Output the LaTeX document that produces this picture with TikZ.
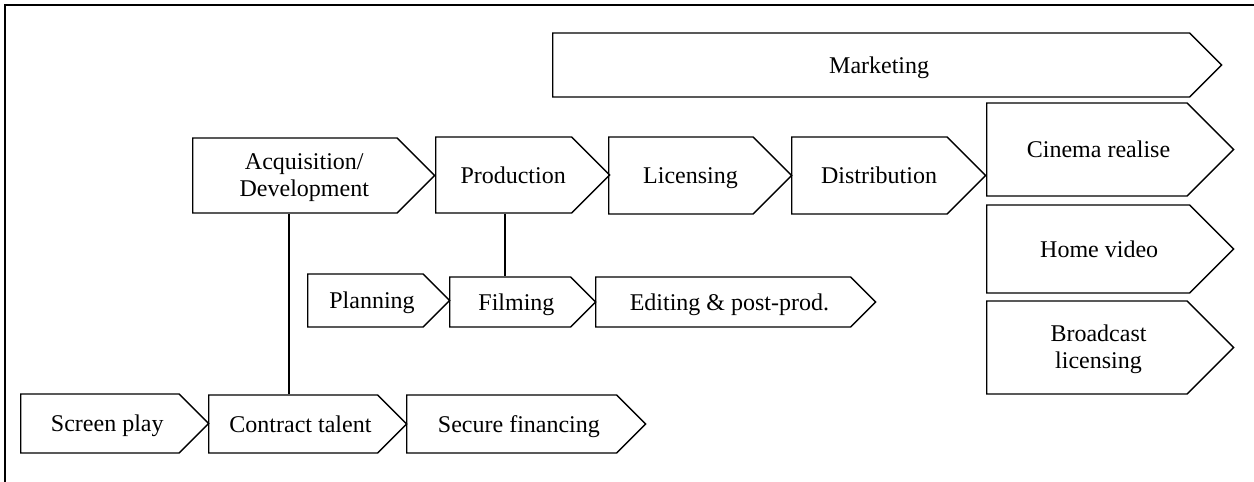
\documentclass[tikz,border=0pt]{standalone}
\usepackage{fontspec}
\setmainfont{Liberation Serif}
\usetikzlibrary{shapes.symbols, calc}

\newcommand{\twoline}[1]{\begin{tabular}{@{}c@{}}#1\end{tabular}}

\tikzset{
  stage/.style={draw, line width=1pt, signal, signal to=east, signal pointer angle=90,
    anchor=west, inner sep=1pt, text height=12pt, text depth=0pt,
    font=\fontsize{18}{20}\selectfont},
  % width, height in px; text sits a bit towards the tip
  size/.style 2 args={minimum width=#1*0.75pt, minimum height=#2*0.75pt,
    execute at begin node={\pgfmathsetlengthmacro\tsh{#2*0.1875pt}\hspace*{\tsh}}},
  link/.style={line width=1.5pt},
}

\begin{document}
\begin{tikzpicture}[x=0.75pt, y=-0.75pt]
        \useasboundingbox (0,0) rectangle (1254,482);

        % the frame
        \draw [line width=1.5pt] (1254,5) -- (5,5) -- (5,482);

        % marketing on top
        \node[stage, size={669}{64}] (mkt) at (552,65) {Marketing};

        % main chain
        \node[stage, size={242}{75}] (acq)  at (192,175.5) {\twoline{Acquisition/\\Development}};
        \node[stage, size={174}{76}] (prod) at (435,175)   {Production};
        \node[stage, size={183}{77}] (lic)  at (608,175.5) {Licensing};
        \node[stage, size={194}{77}] (dist) at (791,175.5) {Distribution};

        % release channels
        \node[stage, size={247}{93}] (cin)  at (986,149.5) {Cinema realise};
        \node[stage, size={247}{88}] (home) at (986,249)   {Home video};
        \node[stage, size={247}{93}] (brd)  at (986,347.5) {\twoline{Broadcast\\licensing}};

        % production steps
        \node[stage, size={142}{53}] (plan) at (307,300.5) {Planning};
        \node[stage, size={146}{50}] (film) at (449,302)   {Filming};
        \node[stage, size={280}{50}] (edit) at (595,302)   {Editing \& post-prod.};

        % development steps
        \node[stage, size={188}{59}] (scr) at (20,423.5)  {Screen play};
        \node[stage, size={198}{58}] (con) at (208,424)   {Contract talent};
        \node[stage, size={239}{58}] (sec) at (406,424)   {Secure financing};

        % the links
        \coordinate (a) at ($ (acq.south west)!.47!(acq.south east) $);
        \coordinate (p) at ($ (prod.south west)!.51!(prod.south east) $);
        \draw [link] (a) -- (a |- con.north);
        \draw [link] (p) -- (p |- film.north);
\end{tikzpicture}
\end{document}
